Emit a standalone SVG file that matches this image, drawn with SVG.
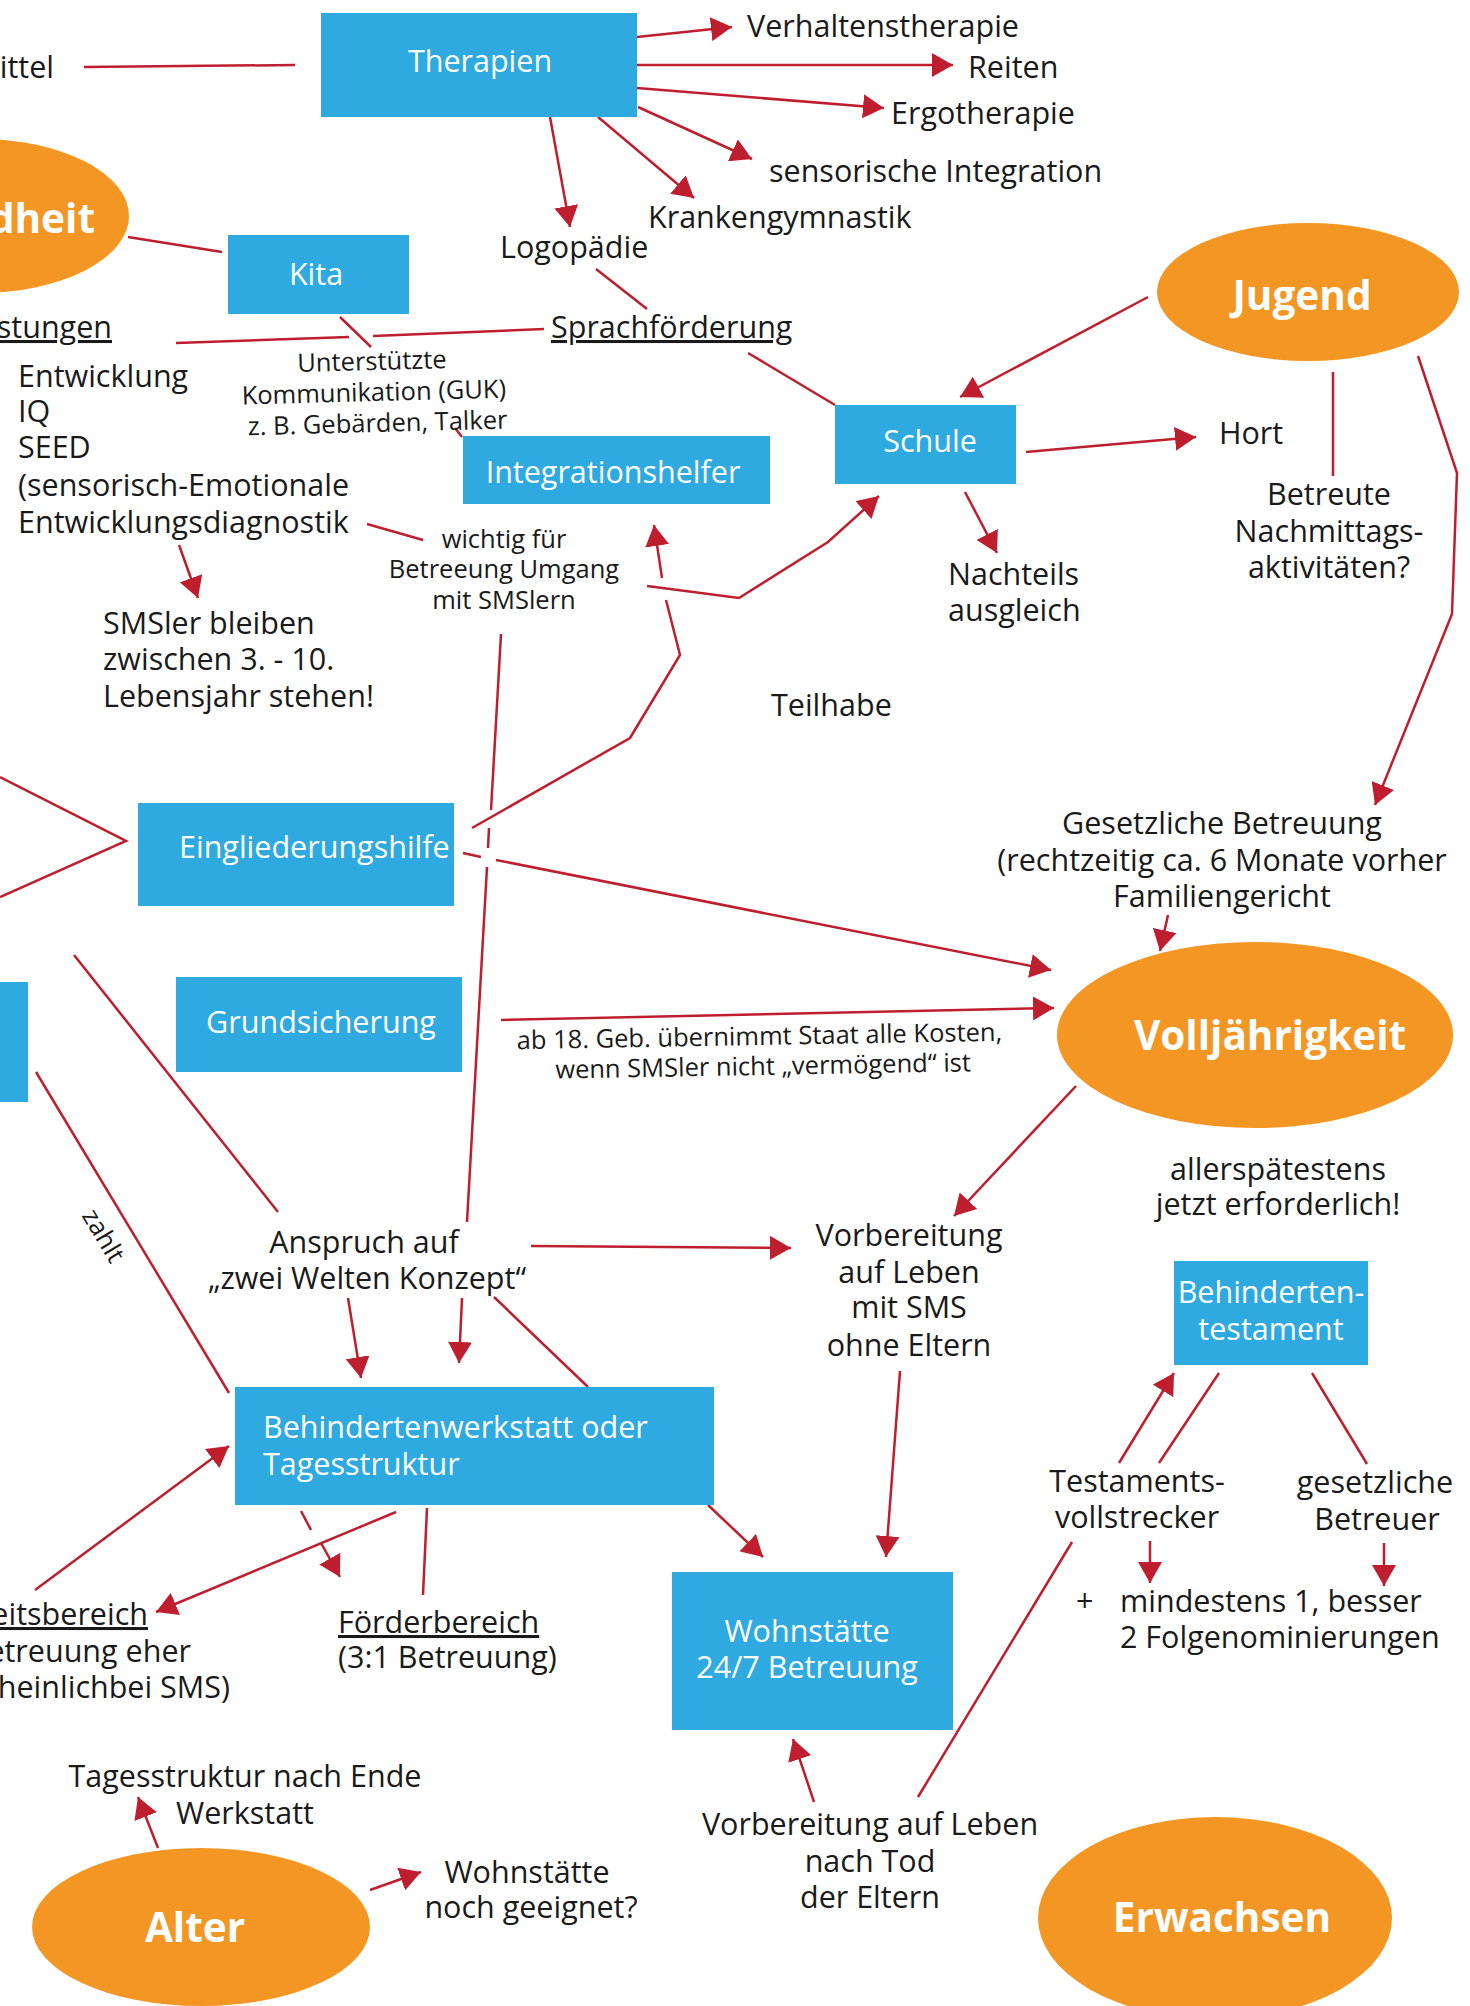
<svg xmlns="http://www.w3.org/2000/svg" width="1470" height="2006" viewBox="0 0 1470 2006">
<defs>
<marker id="ah" markerUnits="userSpaceOnUse" markerWidth="22" markerHeight="24" refX="21" refY="12" orient="auto"><path d="M0,0 L21,12 L0,24 z" fill="#BE1E2D"/></marker>
<style>
.box{fill:#2EAAE0}
.ell{fill:#F39623}
.t{font-family:"Open Sans",sans-serif;font-size:30.5px;fill:#1a1a1a}
.s{font-size:25.5px}
.w{fill:#fff}
.b{font-family:"Open Sans",sans-serif;font-weight:bold;font-size:40.5px;fill:#fff}
.m{text-anchor:middle}
.e{text-anchor:end}
.u{text-decoration:underline}
#conn path,#conn line,#conn polyline{stroke:#BE1E2D;stroke-width:2.5;fill:none}
.a{marker-end:url(#ah)}
</style>
</defs>
<rect width="1470" height="2006" fill="#fff"/>

<g id="conn">
<line x1="84" y1="67" x2="295" y2="65"/>
<line class="a" x1="637" y1="37" x2="732" y2="27"/>
<line class="a" x1="637" y1="65" x2="953" y2="65"/>
<line class="a" x1="637" y1="88" x2="884" y2="108"/>
<line class="a" x1="638" y1="107" x2="752" y2="159"/>
<line class="a" x1="598" y1="117" x2="694" y2="198"/>
<line class="a" x1="550" y1="117" x2="570" y2="227"/>
<line x1="128" y1="237" x2="222" y2="252"/>
<line x1="596" y1="269" x2="647" y2="309"/>
<line x1="176" y1="343" x2="349" y2="337"/>
<line x1="373" y1="336" x2="544" y2="329"/>
<line x1="340" y1="317" x2="371" y2="347"/>
<line x1="455" y1="428" x2="462" y2="437"/>
<line x1="748" y1="353" x2="835" y2="405"/>
<line class="a" x1="1148" y1="297" x2="960" y2="397"/>
<line class="a" x1="1026" y1="452" x2="1196" y2="437"/>
<line x1="1333" y1="372" x2="1333" y2="476"/>
<polyline class="a" points="1418,356 1457,473 1452,614 1375,805"/>
<line class="a" x1="965" y1="492" x2="997" y2="553"/>
<line class="a" x1="179" y1="545" x2="198" y2="598"/>
<line x1="367" y1="524" x2="423" y2="540"/>
<polyline class="a" points="647,586 739,598 828,542 879,496"/>
<polyline points="472,828 630,738 680,655 666,600"/>
<line class="a" x1="662" y1="578" x2="654" y2="525"/>
<line x1="501" y1="634" x2="491" y2="810"/>
<line x1="489" y1="828" x2="488" y2="848"/>
<line x1="487" y1="867" x2="467" y2="1222"/>
<polyline points="0,777 126,841 0,897"/>
<line x1="463" y1="853" x2="481" y2="857"/>
<line class="a" x1="496" y1="860" x2="1051" y2="970"/>
<line class="a" x1="501" y1="1020" x2="1054" y2="1008"/>
<line class="a" x1="1168" y1="915" x2="1160" y2="951"/>
<line class="a" x1="1076" y1="1086" x2="954" y2="1216"/>
<line x1="74" y1="955" x2="278" y2="1212"/>
<line x1="36" y1="1072" x2="229" y2="1393"/>
<line class="a" x1="531" y1="1246" x2="791" y2="1248"/>
<line class="a" x1="348" y1="1298" x2="361" y2="1378"/>
<line class="a" x1="462" y1="1298" x2="459" y2="1363"/>
<line x1="494" y1="1297" x2="588" y2="1387"/>
<line class="a" x1="35" y1="1590" x2="229" y2="1446"/>
<line class="a" x1="396" y1="1512" x2="156" y2="1612"/>
<line x1="301" y1="1511" x2="311" y2="1530"/>
<line class="a" x1="321" y1="1543" x2="340" y2="1577"/>
<line x1="427" y1="1508" x2="423" y2="1595"/>
<line class="a" x1="708" y1="1505" x2="763" y2="1557"/>
<line class="a" x1="900" y1="1371" x2="886" y2="1557"/>
<line class="a" x1="1119" y1="1463" x2="1174" y2="1373"/>
<line x1="1159" y1="1463" x2="1219" y2="1373"/>
<line x1="1312" y1="1373" x2="1367" y2="1464"/>
<line class="a" x1="1150" y1="1541" x2="1150" y2="1583"/>
<line class="a" x1="1384" y1="1543" x2="1384" y2="1586"/>
<line class="a" x1="814" y1="1802" x2="793" y2="1739"/>
<line x1="918" y1="1797" x2="1072" y2="1542"/>
<line class="a" x1="158" y1="1848" x2="138" y2="1797"/>
<line class="a" x1="370" y1="1890" x2="421" y2="1872"/>
</g>

<g id="gesundheit"><ellipse class="ell" cx="-21" cy="216" rx="150" ry="77"/><text class="b e" x="95" y="233">dheit</text></g>
<g id="jugend"><ellipse class="ell" cx="1308" cy="292" rx="151" ry="69"/><text class="b m" x="1302" y="310">Jugend</text></g>
<g id="volljaehrigkeit"><ellipse class="ell" cx="1255" cy="1035" rx="198" ry="93"/><text class="b m" x="1270" y="1050">Volljährigkeit</text></g>
<g id="erwachsen"><ellipse class="ell" cx="1215" cy="1918" rx="177" ry="101"/><text class="b m" x="1222" y="1932">Erwachsen</text></g>
<g id="alter"><ellipse class="ell" cx="201" cy="1927" rx="169" ry="79"/><text class="b m" x="195" y="1942">Alter</text></g>

<g id="therapien"><rect class="box" x="321" y="13" width="316" height="104"/><text class="t w m" x="480" y="72">Therapien</text></g>
<g id="kita"><rect class="box" x="228" y="235" width="181" height="79"/><text class="t w m" x="316" y="285">Kita</text></g>
<g id="integrationshelfer"><rect class="box" x="463" y="436" width="307" height="68"/><text class="t w m" x="613" y="483">Integrationshelfer</text></g>
<g id="schule"><rect class="box" x="835" y="405" width="181" height="79"/><text class="t w m" x="930" y="452">Schule</text></g>
<g id="eingliederungshilfe"><rect class="box" x="138" y="803" width="316" height="103"/><text class="t w" x="179" y="858">Eingliederungshilfe</text></g>
<g id="grundsicherung"><rect class="box" x="176" y="977" width="286" height="95"/><text class="t w m" x="321" y="1033">Grundsicherung</text></g>
<g id="leftbox"><rect class="box" x="0" y="982" width="28" height="120"/></g>
<g id="werkstatt"><rect class="box" x="235" y="1387" width="479" height="118"/><text class="t w" x="263" y="1438">Behindertenwerkstatt oder</text><text class="t w" x="263" y="1475">Tagesstruktur</text></g>
<g id="wohnstaette"><rect class="box" x="672" y="1572" width="281" height="158"/><text class="t w m" x="807" y="1642">Wohnstätte</text><text class="t w m" x="807" y="1678">24/7 Betreuung</text></g>
<g id="testament"><rect class="box" x="1174" y="1261" width="194" height="104"/><text class="t w m" x="1271" y="1303">Behinderten-</text><text class="t w m" x="1271" y="1340">testament</text></g>

<g id="labels">
<text class="t e" x="54" y="78">ittel</text>
<text class="t" x="747" y="37">Verhaltenstherapie</text>
<text class="t" x="968" y="78">Reiten</text>
<text class="t" x="891" y="124">Ergotherapie</text>
<text class="t" x="769" y="182">sensorische Integration</text>
<text class="t" x="648" y="228">Krankengymnastik</text>
<text class="t" x="500" y="258">Logopädie</text>
<text class="t e u" x="112" y="338">stungen</text>
<text class="t u" x="551" y="338">Sprachförderung</text>
<g transform="rotate(-1.5 374 400)">
<text class="t s m" x="373" y="370">Unterstützte</text>
<text class="t s m" x="374" y="401">Kommunikation (GUK)</text>
<text class="t s m" x="377" y="432">z. B. Gebärden, Talker</text>
</g>
<text class="t" x="18" y="387">Entwicklung</text>
<text class="t" x="18" y="422">IQ</text>
<text class="t" x="18" y="458">SEED</text>
<text class="t" x="18" y="496">(sensorisch-Emotionale</text>
<text class="t" x="18" y="533">Entwicklungsdiagnostik</text>
<text class="t" x="103" y="634">SMSler bleiben</text>
<text class="t" x="103" y="670">zwischen 3. - 10.</text>
<text class="t" x="103" y="707">Lebensjahr stehen!</text>
<text class="t s m" x="504" y="548">wichtig für</text>
<text class="t s m" x="504" y="578">Betreeung Umgang</text>
<text class="t s m" x="504" y="609">mit SMSlern</text>
<text class="t" x="1219" y="444">Hort</text>
<text class="t m" x="1329" y="505">Betreute</text>
<text class="t m" x="1329" y="542">Nachmittags-</text>
<text class="t m" x="1329" y="578">aktivitäten?</text>
<text class="t" x="948" y="585">Nachteils</text>
<text class="t" x="948" y="621">ausgleich</text>
<text class="t" x="771" y="716">Teilhabe</text>
<text class="t m" x="1222" y="834">Gesetzliche Betreuung</text>
<text class="t m" x="1222" y="871">(rechtzeitig ca. 6 Monate vorher</text>
<text class="t m" x="1222" y="907">Familiengericht</text>
<g transform="rotate(-1 760 1055)">
<text class="t s" x="517" y="1045">ab 18. Geb. übernimmt Staat alle Kosten,</text>
<text class="t s" x="555" y="1075">wenn SMSler nicht „vermögend“ ist</text>
</g>
<text class="t s m" transform="rotate(59 96 1240)" x="96" y="1240">zahlt</text>
<text class="t m" x="1278" y="1180">allerspätestens</text>
<text class="t m" x="1278" y="1215">jetzt erforderlich!</text>
<text class="t m" x="364" y="1253">Anspruch auf</text>
<text class="t m" x="367" y="1289">„zwei Welten Konzept“</text>
<text class="t m" x="909" y="1246">Vorbereitung</text>
<text class="t m" x="909" y="1283">auf Leben</text>
<text class="t m" x="909" y="1318">mit SMS</text>
<text class="t m" x="909" y="1356">ohne Eltern</text>
<text class="t m" x="1137" y="1492">Testaments-</text>
<text class="t m" x="1137" y="1528">vollstrecker</text>
<text class="t m" x="1375" y="1493">gesetzliche</text>
<text class="t m" x="1377" y="1530">Betreuer</text>
<text class="t" x="1076" y="1612">+</text>
<text class="t" x="1120" y="1612">mindestens 1, besser</text>
<text class="t" x="1120" y="1648">2 Folgenominierungen</text>
<text class="t e u" x="148" y="1625">eitsbereich</text>
<text class="t e" x="191" y="1662">etreuung eher</text>
<text class="t e" x="230" y="1698">heinlichbei SMS)</text>
<text class="t u" x="338" y="1633">Förderbereich</text>
<text class="t" x="338" y="1668">(3:1 Betreuung)</text>
<text class="t m" x="870" y="1835">Vorbereitung auf Leben</text>
<text class="t m" x="870" y="1872">nach Tod</text>
<text class="t m" x="870" y="1908">der Eltern</text>
<text class="t m" x="245" y="1787">Tagesstruktur nach Ende</text>
<text class="t m" x="245" y="1824">Werkstatt</text>
<text class="t m" x="527" y="1883">Wohnstätte</text>
<text class="t m" x="531" y="1918">noch geeignet?</text>
</g>
</svg>
